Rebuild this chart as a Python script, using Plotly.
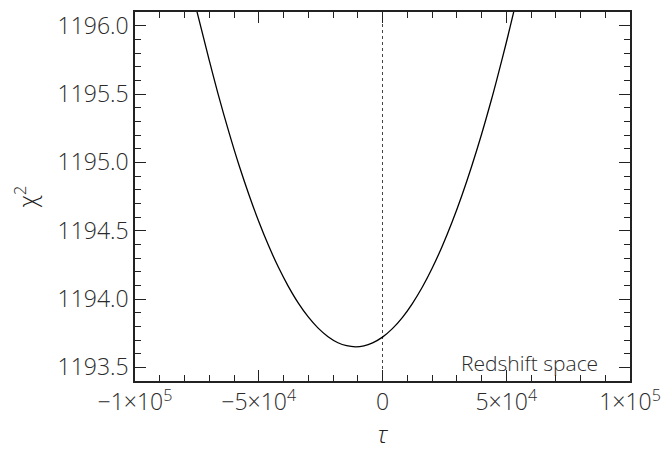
import plotly.graph_objects as go

# Curve (tau, chi^2)
tau = [-75200, -70000, -66500, -62000, -58000, -54000, -50000, -46000, -42000,
       -38000, -34000, -30000, -26000, -22000, -18000, -14500, -10900, -7500,
       -4000, 0, 4000, 8000, 12000, 16000, 20000, 24000, 28000, 32000, 36000,
       40000, 44000, 46000, 50000, 53200]
chi2 = [1196.120, 1195.746, 1195.505, 1195.217, 1194.980, 1194.765, 1194.567,
        1194.389, 1194.230, 1194.091, 1193.970, 1193.869, 1193.787, 1193.724,
        1193.680, 1193.658, 1193.650, 1193.657, 1193.679, 1193.721, 1193.783,
        1193.864, 1193.965, 1194.084, 1194.223, 1194.381, 1194.558, 1194.754,
        1194.970, 1195.204, 1195.458, 1195.593, 1195.875, 1196.115]

x_tickvals = [-100000, -50000, 0, 50000, 100000]
x_ticktext = ["\u22121\u00d710<sup>5</sup>", "\u22125\u00d710<sup>4</sup>", "0",
              "5\u00d710<sup>4</sup>", "1\u00d710<sup>5</sup>"]
y_tickvals = [1193.5, 1194.0, 1194.5, 1195.0, 1195.5, 1196.0]
y_ticktext = ["1193.5", "1194.0", "1194.5", "1195.0", "1195.5", "1196.0"]

x_range = [-100000, 100000]
y_range = [1193.4, 1196.1]
label_text = "Redshift space"

FONT = "Open Sans"
INK = "#222222"
TXT = "#2a2a2a"

fig = go.Figure()
fig.add_trace(go.Scatter(x=[0, 0], y=y_range, mode="lines",
                         line=dict(color="#444444", width=1, dash="dot"),
                         hoverinfo="skip", showlegend=False))
fig.add_trace(go.Scatter(x=tau, y=chi2, mode="lines",
                         line=dict(color="black", width=1.3, shape="spline", smoothing=1),
                         showlegend=False, cliponaxis=True))

axis_common = dict(showgrid=False, zeroline=False, showline=True, linecolor=INK,
                   linewidth=1.5, mirror="allticks", ticks="inside", ticklen=11,
                   tickwidth=1.2, tickcolor=INK,
                   tickfont=dict(family=FONT, size=23, color=TXT, weight=300))

fig.update_xaxes(range=x_range, tickmode="array", tickvals=x_tickvals,
                 ticktext=x_ticktext,
                 minor=dict(dtick=10000, ticks="inside", ticklen=6, tickwidth=1.2,
                            tickcolor=INK, showgrid=False),
                 title=dict(text="<i>\u03c4</i>",
                            font=dict(family=FONT, size=24, color=INK, weight=300),
                            standoff=10),
                 **axis_common)
fig.update_yaxes(range=y_range, tickmode="array", tickvals=y_tickvals,
                 ticktext=y_ticktext,
                 minor=dict(dtick=0.1, tick0=1193.5, ticks="inside", ticklen=6,
                            tickwidth=1.2, tickcolor=INK, showgrid=False),
                 title=dict(text="\u03c7<sup>2</sup>",
                            font=dict(family=FONT, size=24, color=INK, weight=300),
                            standoff=14),
                 **axis_common)

fig.add_annotation(x=0.94, y=0.05, xref="paper", yref="paper", xanchor="right",
                   yanchor="middle", text=label_text, showarrow=False,
                   font=dict(family=FONT, size=21, color=TXT, weight=300))

fig.update_layout(width=670, height=453, plot_bgcolor="white", paper_bgcolor="white",
                  margin=dict(l=135, r=37, t=9, b=67))

fig.write_html("out.html")
